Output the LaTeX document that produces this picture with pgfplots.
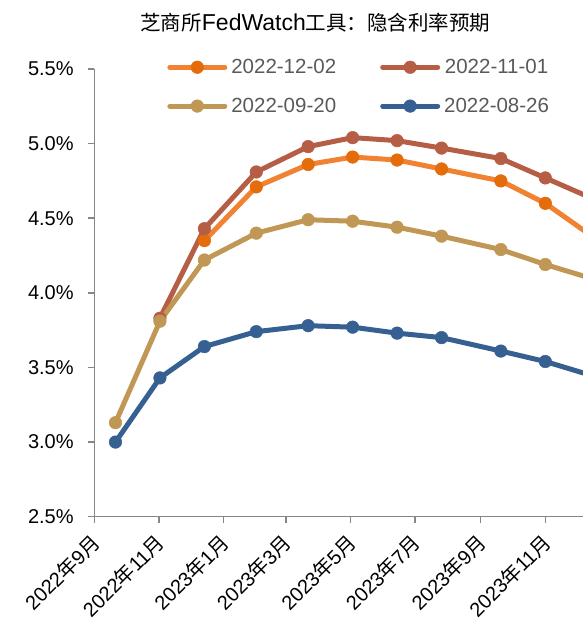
\documentclass[border=0pt]{standalone}
\usepackage{fontspec}
\setmainfont{Liberation Sans}
\newfontfamily\cjk{Noto Sans CJK SC}
\usepackage{pgfplots}
\pgfplotsset{compat=1.18}
\definecolor{cOrL}{RGB}{240,130,50}
\definecolor{cOrM}{RGB}{228,108,10}
\definecolor{cRed}{RGB}{182,93,70}
\definecolor{cGold}{RGB}{192,151,84}
\definecolor{cBlue}{RGB}{55,96,146}
\definecolor{axgray}{RGB}{134,134,134}
\definecolor{legtext}{RGB}{89,89,89}
\begin{document}
\begin{tikzpicture}
\path[use as bounding box] (-94.3pt,-101.3pt) rectangle (488.7pt,516.7pt);
\begin{axis}[
  at={(0pt,0pt)}, anchor=south west,
  scale only axis, width=488.7pt, height=447.7pt,
  xmin=0, xmax=461.6, ymin=2.5, ymax=5.5,
  axis x line*=bottom, axis y line*=left,
  axis line style={axgray, line width=1.5pt, -},
  tick style={axgray, line width=1.5pt},
  tick align=outside, major tick length=6pt,
  xtick={0,61,122,181,242,303,365,426},
  xticklabels={2022{\cjk 年}9{\cjk 月},2022{\cjk 年}11{\cjk 月},2023{\cjk 年}1{\cjk 月},2023{\cjk 年}3{\cjk 月},2023{\cjk 年}5{\cjk 月},2023{\cjk 年}7{\cjk 月},2023{\cjk 年}9{\cjk 月},2023{\cjk 年}11{\cjk 月}},
  xticklabel style={rotate=45, anchor=north east, inner sep=0pt, xshift=-10pt, yshift=-3pt, font=\fontsize{20pt}{22pt}\selectfont},
  ytick={2.5,3,3.5,4,4.5,5,5.5},
  yticklabels={2.5\%,3.0\%,3.5\%,4.0\%,4.5\%,5.0\%,5.5\%},
  yticklabel style={anchor=east, inner sep=0pt, xshift=-14.5pt, font=\fontsize{20pt}{22pt}\selectfont, text=black},
  every axis plot/.append style={line width=5pt, line join=round, line cap=round},
  legend columns=2,
  legend style={draw=none, fill=none, at={(0.149,1.022)}, anchor=north west,
    font=\fontsize{20.5pt}{24pt}\selectfont, text=legtext, inner sep=0pt,
    nodes={inner sep=0pt}, row sep=23pt,
    /tikz/every odd column/.append style={column sep=4pt},
    /tikz/every even column/.append style={column sep=44pt}},
  legend image code/.code={\draw[mark repeat=2,mark phase=2,#1] plot coordinates {(0pt,0pt) (27.5pt,0pt) (55pt,0pt)};},
]
\addplot[color=cOrL, mark=*, mark size=6.3pt, mark options={solid, fill=cOrM, draw=cOrM, line width=0.5pt}] coordinates {
(104,4.35) (153,4.71) (202,4.86) (244,4.91) (286,4.89) (328,4.83) (384,4.75) (426,4.60) (468,4.39)};
\addlegendentry{2022-12-02}
\addplot[color=cRed, mark=*, mark size=6.3pt, mark options={solid, fill=cRed, draw=cRed, line width=0.5pt}] coordinates {
(62,3.83) (104,4.43) (153,4.81) (202,4.98) (244,5.04) (286,5.02) (328,4.97) (384,4.90) (426,4.77) (468,4.64)};
\addlegendentry{2022-11-01}
\addplot[color=cGold, mark=*, mark size=6.3pt, mark options={solid, fill=cGold, draw=cGold, line width=0.5pt}] coordinates {
(20,3.13) (62,3.81) (104,4.22) (153,4.40) (202,4.49) (244,4.48) (286,4.44) (328,4.38) (384,4.29) (426,4.19) (468,4.10)};
\addlegendentry{2022-09-20}
\addplot[color=cBlue, mark=*, mark size=6.3pt, mark options={solid, fill=cBlue, draw=cBlue, line width=0.5pt}] coordinates {
(20,3.00) (62,3.43) (104,3.64) (153,3.74) (202,3.78) (244,3.77) (286,3.73) (328,3.70) (384,3.61) (426,3.54) (468,3.45)};
\addlegendentry{2022-08-26}
\end{axis}
\node[font=\fontsize{20.5pt}{24pt}\selectfont, inner sep=0pt] at (221.1pt,493.7pt) {{\cjk 芝商所}{\fontsize{23pt}{24pt}\selectfont FedWatch}{\cjk 工具：隐含利率预期}};
\end{tikzpicture}
\end{document}
